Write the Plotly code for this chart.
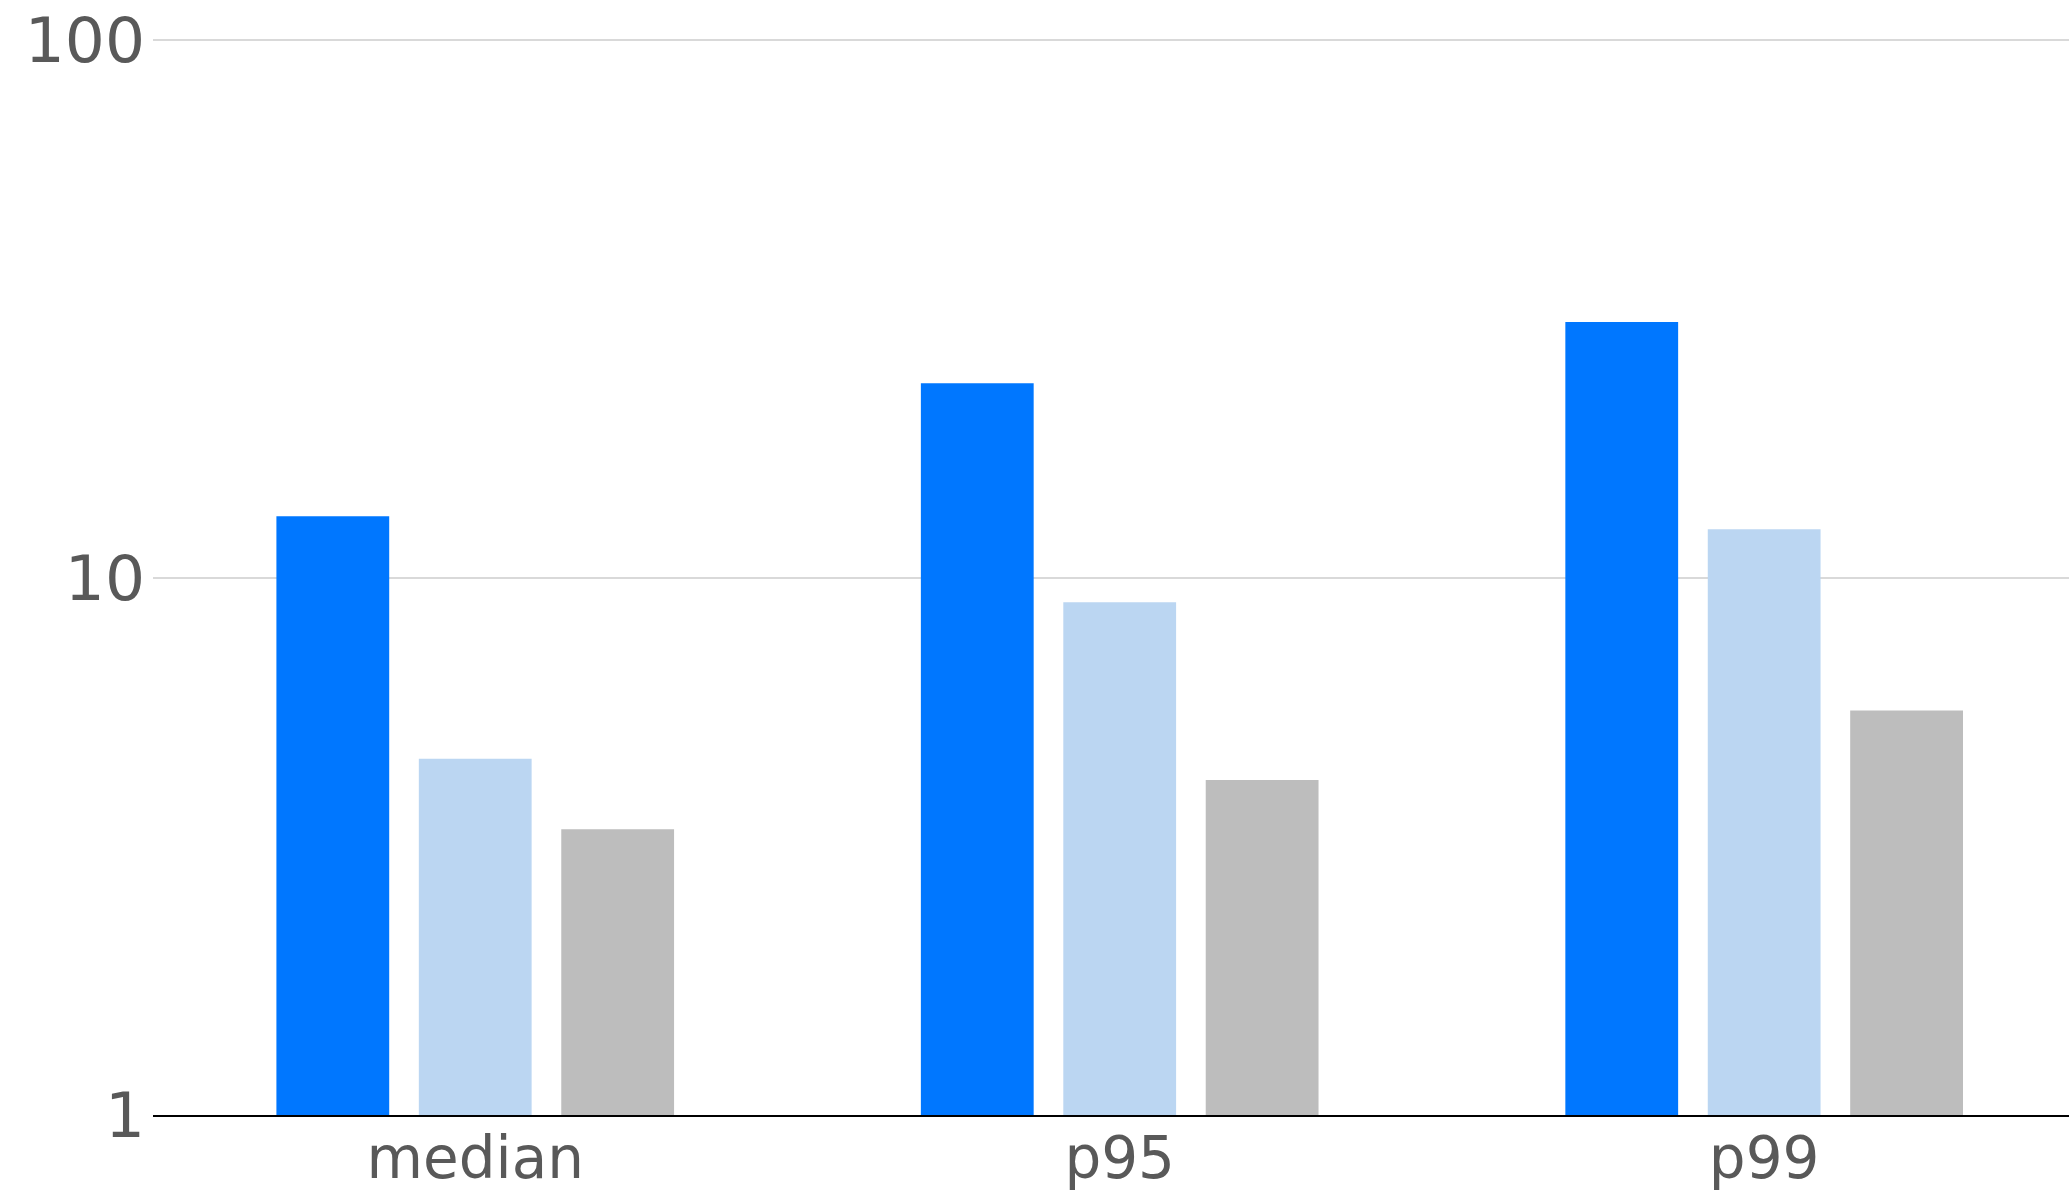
import plotly.graph_objects as go

# Latency percentiles per configuration (log scale)
categories = ["median", "p95", "p99"]
series_a = [13.0, 23.0, 29.9]
series_b = [4.6, 9.0, 12.3]
series_c = [3.4, 4.2, 5.66]

colors = ["#0077FF", "#BBD6F2", "#BDBDBD"]
y_ticks = [1, 10, 100]
y_tick_text = ["1", "10", "100"]

fig = go.Figure()
for vals, col in zip([series_a, series_b, series_c], colors):
    fig.add_trace(go.Bar(x=categories, y=vals, marker=dict(color=col, line=dict(width=0))))

fig.update_layout(
    width=2069,
    height=1195,
    margin=dict(l=153, r=0, t=38, b=80),
    paper_bgcolor="white",
    plot_bgcolor="white",
    barmode="group",
    bargap=0.337,
    bargroupgap=0.208,
    showlegend=False,
    font=dict(family="DejaVu Sans", color="#595959"),
)
fig.update_xaxes(
    type="category",
    range=[-0.5, 2.473],
    showline=True,
    linecolor="black",
    linewidth=2,
    showgrid=False,
    tickfont=dict(size=58, color="#595959"),
    ticks="",
    ticklabelstandoff=-9,
    automargin=False,
)
fig.update_yaxes(
    type="log",
    range=[0, 2.004],
    tickvals=y_ticks,
    ticktext=y_tick_text,
    showgrid=True,
    gridcolor="#d9d9d9",
    gridwidth=2,
    showline=False,
    zeroline=False,
    tickfont=dict(size=63, color="#595959"),
    ticks="",
    ticklabelstandoff=7,
    automargin=False,
)

fig.write_html("out.html")
